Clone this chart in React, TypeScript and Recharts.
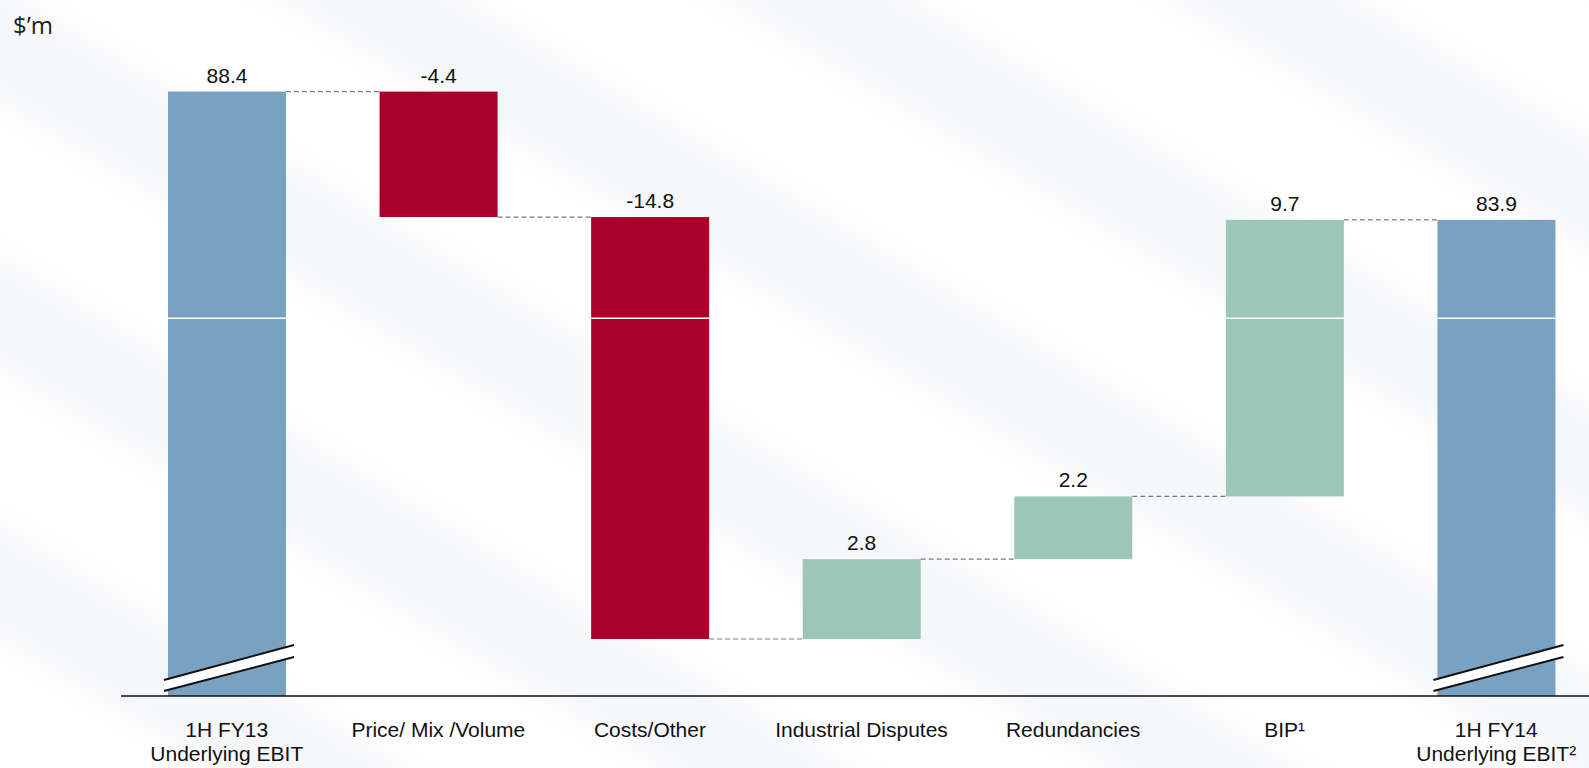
import { BarChart, Bar, XAxis, YAxis, LabelList } from 'recharts'

const categories = [
  '1H FY13|Underlying EBIT',
  'Price/ Mix /Volume',
  'Costs/Other',
  'Industrial Disputes',
  'Redundancies',
  'BIP¹',
  '1H FY14|Underlying EBIT²',
]
const values = [88.4, -4.4, -14.8, 2.8, 2.2, 9.7, 83.9]
const kinds = ['total', 'delta', 'delta', 'delta', 'delta', 'delta', 'total']

const AXIS_MIN = 67.2
const AXIS_MAX = 90
const GRID_VALUE = 80.45

const COLORS = { total: '#79a1c2', neg: '#a8002a', pos: '#9bc6b8' }

const CHART_W = 1620
const CHART_H = 768
const AXIS_H = 72
const MARGIN = { top: 46, right: 18, bottom: 0, left: 121 }
const STEP = (CHART_W - MARGIN.left - MARGIN.right) / categories.length
const FONT = '"Liberation Sans", Arial, sans-serif'

let running = 0
const data = categories.map((name, i) => {
  const v = values[i]
  let range: [number, number]
  if (kinds[i] === 'total') {
    range = [AXIS_MIN, v]
    running = v
  } else {
    const end = running + v
    range = [Math.min(running, end), Math.max(running, end)]
    running = end
  }
  return { name, value: v, kind: kinds[i], range }
})

function WaterfallBar(props: any) {
  const { x, y, width, height, payload, index } = props
  const fill = payload.kind === 'total' ? COLORS.total : payload.value < 0 ? COLORS.neg : COLORS.pos
  const [low, high] = payload.range
  const bottom = y + height
  const gridY = y + ((high - GRID_VALUE) / (high - low)) * height
  const showGrid = GRID_VALUE > low && GRID_VALUE < high
  const connY = payload.kind !== 'total' && payload.value < 0 ? bottom : y
  const isLast = index === data.length - 1
  return (
    <g>
      <rect x={x} y={y} width={width} height={height} fill={fill} />
      {showGrid && <line x1={x} x2={x + width} y1={gridY} y2={gridY} stroke="#fff" strokeWidth={1.5} />}
      {!isLast && (
        <line
          x1={x + width}
          x2={x + STEP}
          y1={connY}
          y2={connY}
          stroke="#7a7a7a"
          strokeWidth={1.2}
          strokeDasharray="5 3"
        />
      )}
      {payload.kind === 'total' && (
        <g>
          <polygon
            points={`${x - 4},${bottom - 16} ${x + width + 8},${bottom - 51} ${x + width + 8},${bottom - 39} ${x - 4},${bottom - 5}`}
            fill="#fff"
          />
          <line x1={x - 4} y1={bottom - 16} x2={x + width + 8} y2={bottom - 51} stroke="#111" strokeWidth={2} />
          <line x1={x - 4} y1={bottom - 5} x2={x + width + 8} y2={bottom - 39} stroke="#111" strokeWidth={2} />
        </g>
      )}
    </g>
  )
}

function ValueLabel(props: any) {
  const { x, y, width, value } = props
  return (
    <text x={x + width / 2} y={y - 9} textAnchor="middle" fontSize={21} fontFamily={FONT} fill="#111">
      {Number(value).toFixed(1)}
    </text>
  )
}

function CategoryTick(props: any) {
  const { x, y, payload } = props
  const lines = String(payload.value).split('|')
  return (
    <text x={x} y={y} textAnchor="middle" fontSize={21} fontFamily={FONT} fill="#111">
      {lines.map((l, i) => (
        <tspan key={i} x={x} dy={i === 0 ? 33 : 24}>
          {l}
        </tspan>
      ))}
    </text>
  )
}

export default function App() {
  return (
    <div
      style={{
        position: 'absolute',
        left: 0,
        top: 0,
        width: 1589,
        height: 768,
        overflow: 'hidden',
        background:
          'repeating-linear-gradient(31deg, #ffffff 0px, #ffffff 90px, #f6f7f9 130px, #f6f7f9 190px, #ffffff 230px)',
      }}
    >
      <div
        style={{
          position: 'absolute',
          left: 13,
          top: 8,
          fontFamily: '"Open Sans", sans-serif',
          fontSize: 24,
          color: '#222',
        }}
      >
        $’m
      </div>
      <BarChart width={CHART_W} height={CHART_H} data={data} margin={MARGIN} barSize={118}>
        <XAxis
          dataKey="name"
          interval={0}
          tickLine={false}
          axisLine={{ stroke: '#111', strokeWidth: 1.5 }}
          tick={<CategoryTick />}
          height={AXIS_H}
        />
        <YAxis hide domain={[AXIS_MIN, AXIS_MAX]} allowDataOverflow />
        <Bar dataKey="range" shape={<WaterfallBar />} isAnimationActive={false}>
          <LabelList dataKey="value" content={<ValueLabel />} />
        </Bar>
      </BarChart>
    </div>
  )
}
